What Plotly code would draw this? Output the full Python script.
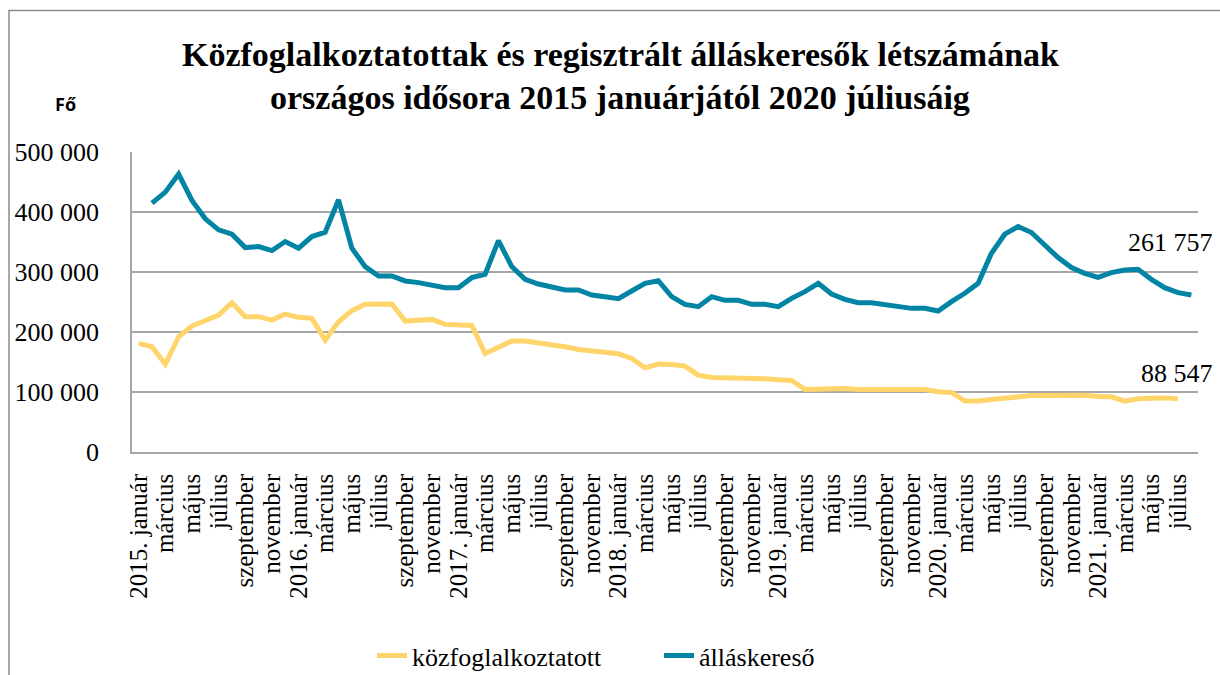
import plotly.graph_objects as go

# ---- data ----
months = ["január", "február", "március", "április", "május", "június",
          "július", "augusztus", "szeptember", "október", "november", "december"]
years = [2015, 2016, 2017, 2018, 2019, 2020, 2021]

categories = []
for y in years:
    for mi, m in enumerate(months):
        if y == 2021 and mi > 7:
            break
        categories.append(f"{y}. {m}" if mi == 0 else m)

kozfoglalkoztatott = [
    181000, 175400, 146400, 192100, 209900, 219900, 228300, 248900, 225500, 225500,
    219900, 229900, 224400, 222700, 186500, 217100, 235500, 246100, 245600, 246700,
    218200, 219400, 221000, 212700, 212700, 211000, 164300, 175400, 184900, 184900,
    182100, 178700, 175400, 170900, 168200, 167000, 163700, 155900, 140300, 146500,
    145900, 143100, 128100, 124200, 123700, 123700, 123700, 122000, 120300, 119200,
    104100, 104700, 105800, 105800, 104100, 104100, 104700, 105800, 105300, 104100,
    100300, 99200, 85200, 85200, 87500, 90200, 93000, 94100, 94100, 94700,
    94700, 94700, 92500, 91900, 84700, 88600, 89700, 90200, 88547, None,
]
allaskereso = [
    None, 414800, 433100, 463200, 419200, 388600, 370200, 363000, 340700, 342400,
    335700, 350800, 339600, 359100, 366300, 420300, 339600, 309000, 293400, 293400,
    285100, 282300, 278400, 273900, 273900, 290600, 296200, 352400, 309000, 287800,
    280000, 275000, 270000, 270000, 261600, 258900, 255500, 268300, 281100, 285500,
    258900, 246100, 242200, 258900, 252800, 252800, 246100, 246100, 242200, 256100,
    267200, 281100, 263300, 254400, 248800, 248800, 246100, 243900, 239400, 239400,
    235000, 250600, 264500, 281200, 331300, 363000, 375800, 365800, 345200, 324000,
    307300, 297800, 291200, 299000, 303400, 304600, 287800, 273900, 265500, 261757,
]

y_tickvals = [0, 100000, 200000, 300000, 400000, 500000]
y_ticktext = ["0", "100 000", "200 000", "300 000", "400 000", "500 000"]

title_lines = ["Közfoglalkoztatottak és regisztrált álláskeresők létszámának",
               "országos idősora 2015 januárjától 2020 júliusáig"]
unit_label = "Fő"
series_names = ["közfoglalkoztatott", "álláskereső"]
end_labels = ["88 547", "261 757"]

# ---- layout helpers ----
W, H = 1220, 675
PL, PR, PT, PB = 132, 1198, 152.3, 451.7


def px(x):
    return (x - PL) / (PR - PL)


def py(y):
    return (PB - y) / (PB - PT)


SERIF = "Liberation Serif, Times New Roman, serif"
YELLOW = "#FFD56B"
BLUE = "#0284A4"
GRID = "#A6A6A6"

xs = list(range(len(categories)))
tickvals = xs[::2]
ticktext = categories[::2]

fig = go.Figure()
fig.add_trace(go.Scatter(x=xs, y=kozfoglalkoztatott, mode="lines", name=series_names[0],
                         line=dict(color=YELLOW, width=5), connectgaps=False))
fig.add_trace(go.Scatter(x=xs, y=allaskereso, mode="lines", name=series_names[1],
                         line=dict(color=BLUE, width=5), connectgaps=False))

last_y = max(i for i, v in enumerate(kozfoglalkoztatott) if v is not None)
last_b = max(i for i, v in enumerate(allaskereso) if v is not None)

annotations = [
    dict(text=f"<b>{title_lines[0]}</b>", x=px(620), y=py(55), xref="paper", yref="paper",
         showarrow=False, xanchor="center", yanchor="middle",
         font=dict(family=SERIF, size=34, color="#000")),
    dict(text=f"<b>{title_lines[1]}</b>", x=px(620), y=py(98), xref="paper", yref="paper",
         showarrow=False, xanchor="center", yanchor="middle",
         font=dict(family=SERIF, size=34, color="#000")),
    dict(text=f"<b>{unit_label}</b>", x=px(65), y=py(104), xref="paper", yref="paper",
         showarrow=False, xanchor="center", yanchor="middle",
         font=dict(family="Open Sans", size=18, color="#000")),
    dict(text=end_labels[1], x=last_b, y=allaskereso[last_b], xref="x", yref="y",
         showarrow=False, xanchor="right", yanchor="middle", xshift=24, yshift=52,
         font=dict(family=SERIF, size=26, color="#000")),
    dict(text=end_labels[0], x=last_y, y=kozfoglalkoztatott[last_y], xref="x", yref="y",
         showarrow=False, xanchor="right", yanchor="middle", xshift=37, yshift=25,
         font=dict(family=SERIF, size=26, color="#000")),
]

fig.update_layout(
    width=W, height=H,
    margin=dict(l=PL, r=W - PR, t=PT, b=H - PB, autoexpand=False),
    paper_bgcolor="white", plot_bgcolor="white",
    font=dict(family=SERIF, color="#000"),
    showlegend=True,
    legend=dict(x=px(372), y=py(655), orientation="h", yanchor="middle", xanchor="left",
                font=dict(family=SERIF, size=26, color="#000", weight="normal", style="normal"),
                entrywidth=242, entrywidthmode="pixels",
                bgcolor="rgba(0,0,0,0)", borderwidth=0),
    annotations=annotations,
    shapes=[dict(type="rect", xref="paper", yref="paper",
                 x0=px(9), x1=px(1240), y0=py(700), y1=py(11),
                 line=dict(color="#8C8C8C", width=1.5), fillcolor="rgba(0,0,0,0)", layer="below")],
)

fig.update_xaxes(range=[-0.5, len(categories) - 0.5], tickmode="array", tickvals=tickvals,
                 ticktext=ticktext, tickangle=-90, showgrid=False, zeroline=False,
                 showline=True, linecolor=GRID, linewidth=1.5, ticks="",
                 ticklabelstandoff=10,
                 tickfont=dict(family=SERIF, size=25, color="#000"))
fig.update_yaxes(range=[0, 500000], tickmode="array", tickvals=y_tickvals, ticktext=y_ticktext,
                 showgrid=True, gridcolor=GRID, gridwidth=1.5, zeroline=False,
                 showline=True, linecolor=GRID, linewidth=1.5, ticks="",
                 ticklabelstandoff=26,
                 tickfont=dict(family=SERIF, size=26, color="#000"))

fig.write_html("out.html")
